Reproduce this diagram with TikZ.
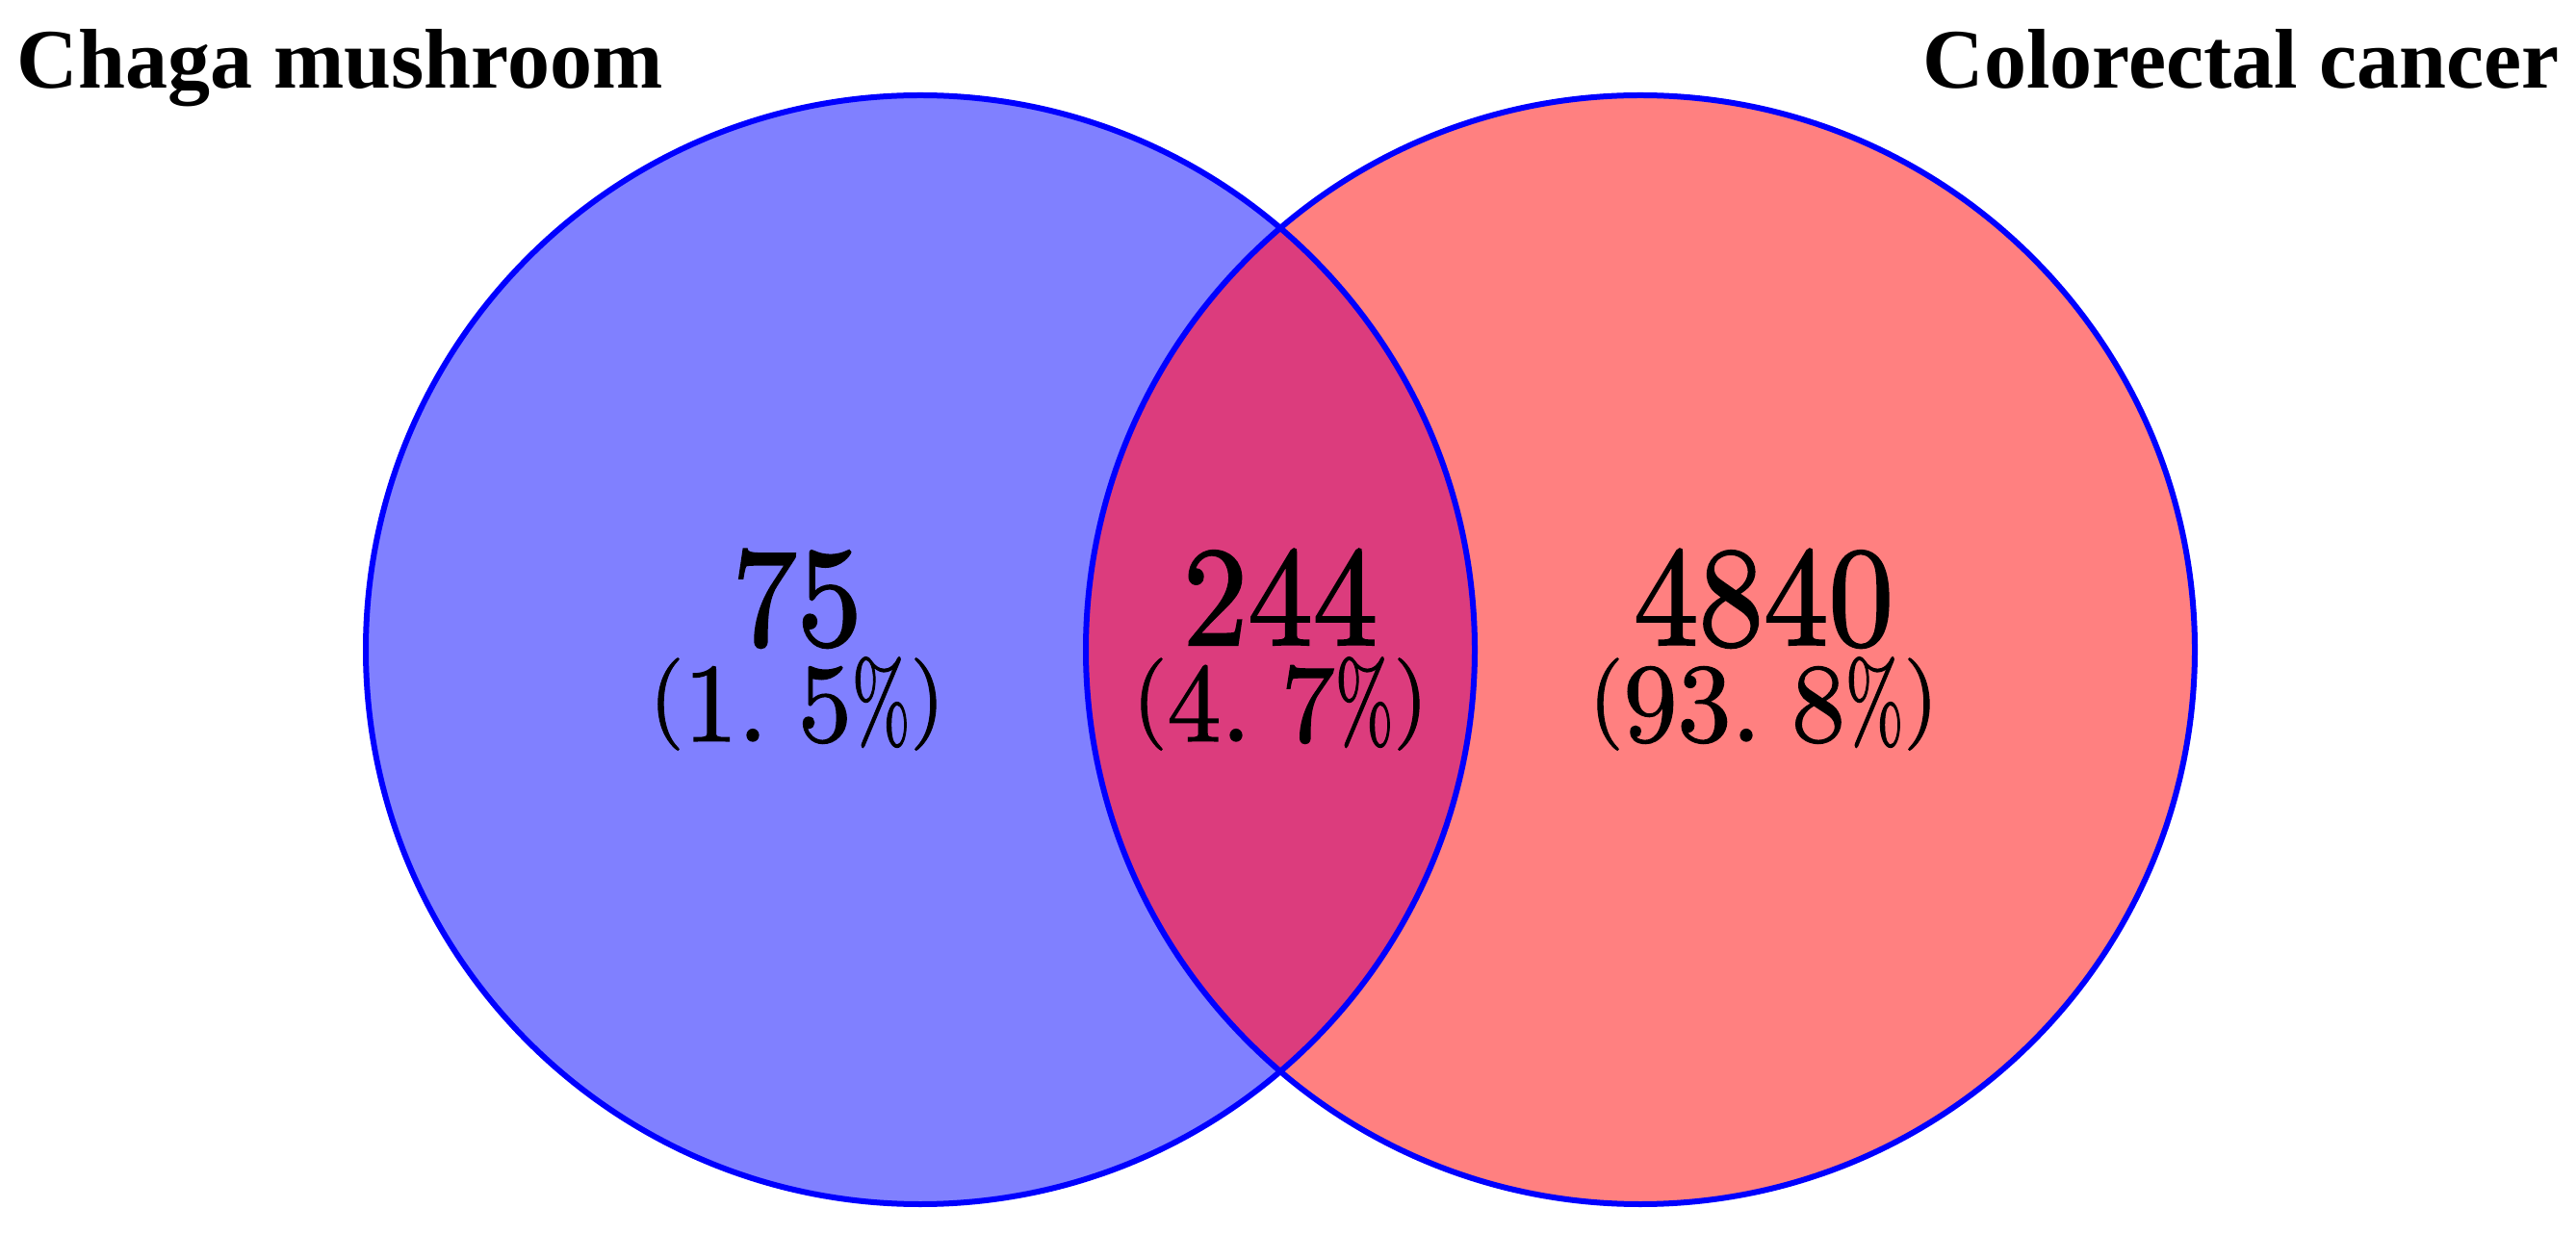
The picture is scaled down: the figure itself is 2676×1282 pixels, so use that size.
\documentclass[tikz,border=0pt]{standalone}
\usepackage{fontspec}
\usepackage{graphicx}
\newfontfamily\titlefont{Liberation Serif}
\newfontfamily\bignumfont{lmroman10-regular.otf}[FakeBold=1.5]
\newfontfamily\pctfont{lmroman10-regular.otf}[FakeBold=1.2]
\definecolor{setL}{RGB}{128,128,255}
\definecolor{setR}{RGB}{255,128,128}
\definecolor{setI}{RGB}{220,60,125}
\definecolor{ringblue}{RGB}{0,0,255}
\newcommand{\bignum}[1]{{\bignumfont\fontsize{33.75pt}{40pt}\selectfont\scalebox{1}[1.09]{#1}}}
\newcommand{\smallparen}[1]{\raisebox{3.5pt}{\scalebox{0.82}{#1}}}
\newcommand{\pct}[2]{{\pctfont\fontsize{28pt}{34pt}\selectfont\scalebox{1}[1.04]{\smallparen{(}#1.\hspace{0.28em}#2\scalebox{0.65}[1]{\%}\smallparen{)}}}}
\begin{document}
\begin{tikzpicture}[x=0.25pt,y=-0.25pt,
  ring/.style={draw=ringblue,line width=1.5pt},
  title/.style={font=\titlefont\bfseries\fontsize{22pt}{26pt}\selectfont,inner sep=0pt},
  num/.style={inner sep=0pt,anchor=base}]
\useasboundingbox (0,0) rectangle (2676,1282);
\coordinate (cL) at (956,675);
\coordinate (cR) at (1704,675);
\fill[setL] (cL) circle[radius=144pt];
\fill[setR] (cR) circle[radius=144pt];
\begin{scope}
  \clip (cL) circle[radius=144pt];
  \fill[setI] (cR) circle[radius=144pt];
\end{scope}
\draw[ring] (cL) circle[radius=144pt];
\draw[ring] (cR) circle[radius=144pt];
\node[title,anchor=base west] (tL) at (17,92) {Chaga mushroom};
\node[title,anchor=base east] (tR) at (2659,92) {Colorectal cancer};
\node[num] (nL) at (828,670) {\bignum{75}};
\node[num] (pL) at (828,770) {\pct{1}{5}};
\node[num] (nI) at (1330,670) {\bignum{244}};
\node[num] (pI) at (1330,770) {\pct{4}{7}};
\node[num] (nR) at (1832,670) {\bignum{4840}};
\node[num] (pR) at (1832,770) {\pct{93}{8}};
\end{tikzpicture}
\end{document}
